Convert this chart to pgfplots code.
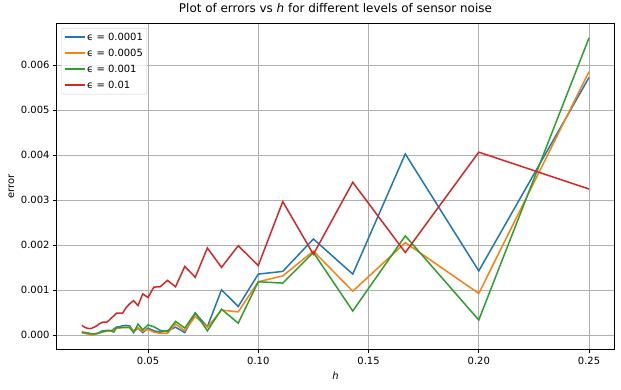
\documentclass[border=0pt]{standalone}
\usepackage{pgfplots}
\usepackage{pgfplotstable}
\pgfplotsset{compat=1.18}
\usepackage{fontspec}
\setmainfont{DejaVu Sans}
\definecolor{c1}{HTML}{1F77B4}
\definecolor{c2}{HTML}{FF7F0E}
\definecolor{c3}{HTML}{2CA02C}
\definecolor{c4}{HTML}{D62728}
\definecolor{gridc}{HTML}{B0B0B0}
\pgfplotstableread{
h        e1       e2       e3       e4
0.25     0.00573  0.00586  0.00661  0.00325
0.2      0.00143  0.00093  0.00034  0.00407
0.166667 0.00403  0.00206  0.00221  0.00184
0.142857 0.00136  0.00098  0.00054  0.00340
0.125    0.00214  0.00187  0.00184  0.00180
0.111111 0.00142  0.00132  0.00116  0.00297
0.1      0.00136  0.00119  0.00119  0.00155
0.090909 0.00064  0.00052  0.00027  0.00199
0.083333 0.00101  0.00056  0.00058  0.00151
0.076923 0.00019  0.00018  0.00010  0.00194
0.071429 0.00049  0.00042  0.00050  0.00129
0.066667 0.00006  0.00010  0.00016  0.00153
0.0625   0.00018  0.00025  0.00031  0.00108
0.058824 0.00010  0.00004  0.00008  0.00122
0.055556 0.00007  0.00004  0.00011  0.00108
0.052632 0.00010  0.00007  0.00019  0.00107
0.05     0.00016  0.00013  0.00023  0.00084
0.047619 0.00006  0.00009  0.00012  0.00092
0.045455 0.00016  0.00017  0.00025  0.00066
0.043478 0.00008  0.00010  0.00006  0.00077
0.041667 0.00021  0.00018  0.00017  0.00070
0.04     0.00022  0.00018  0.00017  0.00061
0.038462 0.00021  0.00018  0.00017  0.00049
0.037037 0.00019  0.00016  0.00017  0.00049
0.035714 0.00018  0.00015  0.00018  0.00049
0.034483 0.00014  0.00012  0.00007  0.00043
0.033333 0.00010  0.00010  0.00010  0.00038
0.032258 0.00010  0.00009  0.00011  0.00033
0.03125  0.00011  0.00009  0.00010  0.00029
0.030303 0.00010  0.00008  0.00009  0.00029
0.029412 0.00010  0.00007  0.00009  0.00029
0.028571 0.00008  0.00006  0.00007  0.00027
0.027778 0.00006  0.00005  0.00005  0.00025
0.027027 0.00004  0.00004  0.00004  0.00022
0.026316 0.00003  0.00003  0.00004  0.00020
0.025641 0.00002  0.00002  0.00003  0.00018
0.025    0.00002  0.00001  0.00003  0.00017
0.02439  0.00002  0.00001  0.00003  0.000155
0.02381  0.00003  0.00002  0.00004  0.00015
0.023256 0.00004  0.00002  0.00004  0.00015
0.022727 0.00005  0.00003  0.00005  0.000155
0.022222 0.00005  0.00003  0.00005  0.00016
0.021739 0.00006  0.00004  0.00006  0.00017
0.021277 0.00006  0.00004  0.00006  0.00018
0.020833 0.00006  0.00005  0.00006  0.00019
0.020408 0.00007  0.00005  0.00007  0.00021
0.02     0.00007  0.00006  0.00007  0.00022
}\datatable
\begin{document}
\begin{tikzpicture}
\path[use as bounding box] (-56.5bp,-40bp) rectangle (564.5bp,349.7bp);
\begin{axis}[
  at={(0,0)}, anchor=south west,
  scale only axis,
  width=557.9bp, height=326.7bp,
  xmin=0.0085, xmax=0.2615,
  ymin=-0.00032, ymax=0.00694,
  xtick={0.05,0.10,0.15,0.20,0.25},
  ytick={0,0.001,0.002,0.003,0.004,0.005,0.006},
  scaled x ticks=false, scaled y ticks=false,
  xticklabel style={/pgf/number format/.cd, fixed, fixed zerofill, precision=2},
  yticklabel style={/pgf/number format/.cd, fixed, fixed zerofill, precision=3},
  /pgf/number format/assume math mode=true,
  tick align=outside, tick pos=left,
  major tick length=3.5bp,
  every tick/.style={black, line width=0.8bp},
  axis line style={black, line width=0.8bp},
  grid=major,
  major grid style={gridc, line width=0.8bp},
  font=\fontsize{10}{12}\selectfont,
  title={Plot of errors vs \textit{h} for different levels of sensor noise},
  title style={font=\fontsize{12}{14}\selectfont, at={(axis description cs:0.5,1)}, anchor=south, yshift=4bp, inner sep=0pt},
  xlabel={\textit{h}},
  xlabel style={at={(axis description cs:0.5,0)}, anchor=north, yshift=-22bp, inner sep=0pt},
  ylabel={error},
  ylabel style={at={(axis description cs:-0.0807,0.5)}, anchor=center, inner sep=0pt},
  legend cell align=left,
  legend style={at={(axis description cs:0.009,0.985)}, anchor=north west,
    draw=black!20, rounded corners=2bp, fill=white, fill opacity=0.8, text opacity=1, draw opacity=1,
    font=\fontsize{10}{12}\selectfont, inner sep=3bp, row sep=4bp,
    nodes={inner sep=1bp, text height=8bp, text depth=2bp}},
  legend image code/.code={\draw[#1, line width=1.5bp] (0bp,0bp) -- (20bp,0bp);},
]
\addplot[c1, line width=1.5bp, mark=none] table[x=h,y=e1]{\datatable};
\addlegendentry{ϵ = 0.0001}
\addplot[c2, line width=1.5bp, mark=none] table[x=h,y=e2]{\datatable};
\addlegendentry{ϵ = 0.0005}
\addplot[c3, line width=1.5bp, mark=none] table[x=h,y=e3]{\datatable};
\addlegendentry{ϵ = 0.001}
\addplot[c4, line width=1.5bp, mark=none] table[x=h,y=e4]{\datatable};
\addlegendentry{ϵ = 0.01}
\end{axis}
\end{tikzpicture}
\end{document}
